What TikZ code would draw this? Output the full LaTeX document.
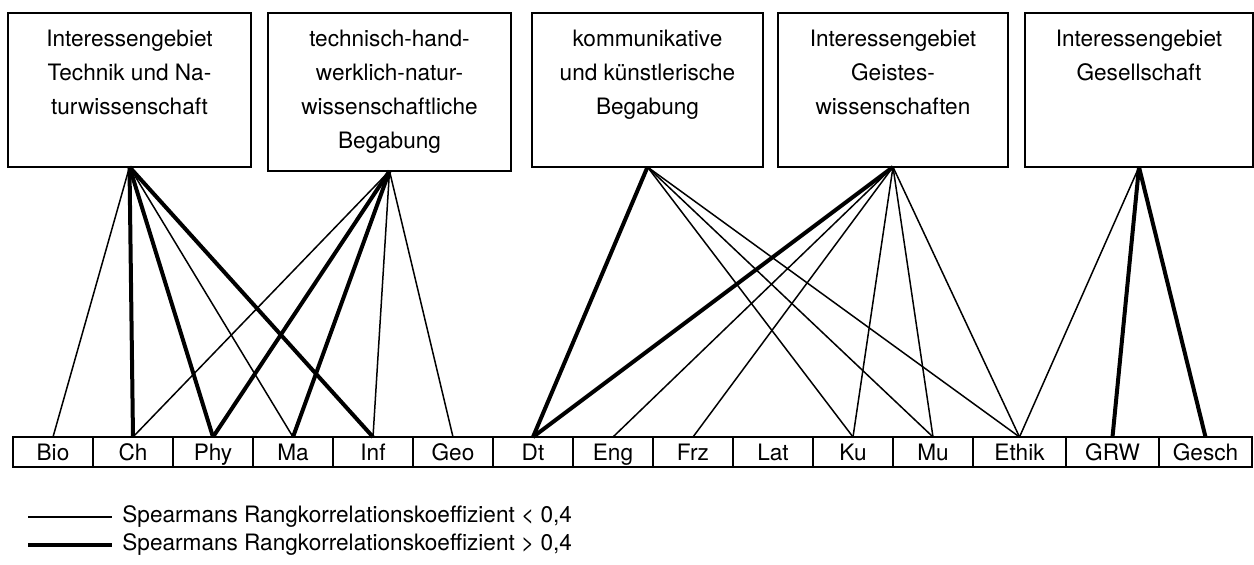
\documentclass[tikz,border=0pt]{standalone}
\usepackage{fontspec}
\setmainfont{TeX Gyre Heros}
\usetikzlibrary{positioning}
\tikzset{
  topic/.style={draw, line width=1pt, anchor=north west, inner sep=0pt, outer sep=0pt},
  subj/.style={draw, line width=1pt, minimum width=40pt, minimum height=15pt,
    inner sep=0pt, outer sep=0pt, text height=8.2pt, text depth=0pt},
  wide/.style={subj, minimum width=46.5pt},
  weak/.style={line width=0.75pt},
  strong/.style={line width=2pt},
}
\newcommand{\topictext}[3]{\parbox[c][#2][t]{#1}{\centering\rule{0pt}{17pt}#3}}

\begin{document}
\begin{tikzpicture}[x=0.5pt, y=-0.5pt, font=\fontsize{11.3}{17}\selectfont]
  \useasboundingbox (0,0) rectangle (1254,565);

  % interest and talent areas
  \node[topic] (tn) at (8,13)    {\topictext{121.5pt}{77pt}{Interessengebiet\\Technik und Na-\\turwissenschaft}};
  \node[topic] (thw) at (268,13) {\topictext{121.5pt}{79pt}{technisch-hand-\\werklich-natur-\\wissenschaftliche\\Begabung}};
  \node[topic] (kuk) at (532,13) {\topictext{115.5pt}{77pt}{kommunikative\\und künstlerische\\Begabung}};
  \node[topic] (gw) at (778,13)  {\topictext{115pt}{77pt}{Interessengebiet\\Geistes-\\wissenschaften}};
  \node[topic] (ges) at (1025,13) {\topictext{114pt}{77pt}{Interessengebiet\\Gesellschaft}};

  % school subjects
  \node[subj, anchor=north west] (bio) at (13,437) {Bio};
  \node[subj, right=0pt of bio] (ch) {Ch};
  \node[subj, right=0pt of ch] (phy) {Phy};
  \node[subj, right=0pt of phy] (ma) {Ma};
  \node[subj, right=0pt of ma] (inf) {Inf};
  \node[subj, right=0pt of inf] (geo) {Geo};
  \node[subj, right=0pt of geo] (dt) {Dt};
  \node[subj, right=0pt of dt] (eng) {Eng};
  \node[subj, right=0pt of eng] (frz) {Frz};
  \node[subj, right=0pt of frz] (lat) {Lat};
  \node[subj, right=0pt of lat] (ku) {Ku};
  \node[subj, right=0pt of ku] (mu) {Mu};
  \node[wide, right=0pt of mu] (ethik) {Ethik};
  \node[wide, right=0pt of ethik] (grw) {GRW};
  \node[wide, right=0pt of grw] (gesch) {Gesch};

  % correlations
  \foreach \a/\b in {tn/bio, tn/ma, thw/ch, thw/inf, thw/geo, kuk/ku, kuk/mu, kuk/ethik,
      gw/eng, gw/frz, gw/ku, gw/mu, gw/ethik, ges/ethik}
    \draw[weak] (\a.south) -- (\b.north);
  \foreach \a/\b in {tn/ch, tn/phy, tn/inf, thw/phy, thw/ma, kuk/dt, gw/dt, ges/grw, ges/gesch}
    \draw[strong] (\a.south) -- (\b.north);

  % legend
  \coordinate (w0) at (28,517);
  \node[anchor=west, inner sep=5pt] (lw) at (112,517) {Spearmans Rangkorrelationskoeffizient < 0,4};
  \draw[weak] (w0) -- (lw.west);
  \coordinate (s0) at (28,545);
  \node[anchor=west, inner sep=5pt] (ls) at (112,545) {Spearmans Rangkorrelationskoeffizient > 0,4};
  \draw[strong] (s0) -- (ls.west);
\end{tikzpicture}
\end{document}
